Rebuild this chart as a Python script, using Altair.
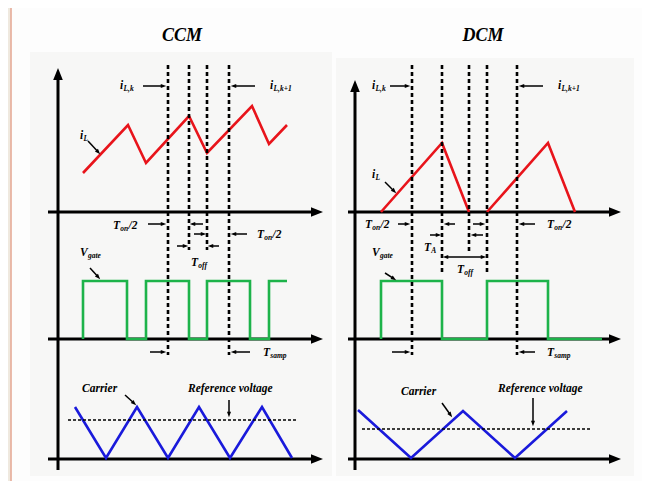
import math
import altair as alt
import pandas as pd

# ---------------- frame ----------------
W, H = 634, 473
X0, Y0 = 8, 8
FONT = "Liberation Serif"

# ---------------- data ----------------
titles = ["CCM", "DCM"]
title_x = [182, 483]
title_y = [36, 36]

# inductor current waveform vertices (time position, level)
ccm_iL_t = [83, 128, 146, 189, 207, 252, 269, 287]
ccm_iL_v = [173, 125, 163, 116, 153, 106, 144, 125]
dcm_iL_t = [[381, 442, 469], [487, 548, 575]]
dcm_iL_v = [[212, 143, 212], [212, 143, 212]]

# gate signal
ccm_gate_t = [83, 83, 127, 127, 146, 146, 189, 189, 207, 207, 250, 250, 269, 269, 287]
ccm_gate_v = [339, 281, 281, 339, 339, 281, 281, 339, 339, 281, 281, 339, 339, 281, 281]
dcm_gate_t = [381, 381, 442, 442, 487, 487, 548, 548, 602]
dcm_gate_v = [339, 281, 281, 339, 339, 281, 281, 339, 339]

# carrier
ccm_carrier_t = [75, 106, 137, 168, 199, 230, 262, 292]
ccm_carrier_v = [407, 458, 407, 458, 407, 458, 407, 458]
dcm_carrier_t = [358, 411, 463, 515, 567]
dcm_carrier_v = [410, 458, 411, 458, 411]

# reference voltage (start, end, level)
ref_start = [68, 362]
ref_end = [297, 590]
ref_level = [420, 429]

# sampling / timing guide lines (time, top, bottom)
guide_t = [168, 189, 207, 229, 412, 442, 469, 487, 517]
guide_top = [65, 65, 65, 65, 65, 65, 65, 65, 65]
guide_bot = [355, 250, 250, 355, 355, 272, 252, 272, 355]

# axes: vertical (x, bottom, tip) and horizontal (level, start, tip)
vaxis_x = [58, 355]
vaxis_bot = [470, 470]
vaxis_tip = [68, 80]
haxis_level = [212, 339, 459, 212, 339, 459]
haxis_start = [48, 48, 48, 348, 348, 348]
haxis_tip = [323, 323, 323, 621, 621, 621]

# annotation arrows (tail x, tail y, head x, head y)
arrows = [
    (88, 141, 100, 154), (143, 86, 166, 86), (255, 86, 231, 86),
    (148, 224, 166, 224), (203, 224, 190, 224), (194, 234, 206, 234),
    (247, 234, 231, 234), (177, 246, 188, 246), (219, 246, 208, 246),
    (90, 268, 100, 279), (150, 352, 166, 352), (250, 352, 231, 352),
    (125, 395, 136, 405), (229, 400, 229, 417),
    (385, 182, 396, 193), (390, 86, 410, 86), (543, 86, 519, 86),
    (398, 224, 410, 224), (455, 224, 444, 224), (473, 224, 485, 224),
    (535, 224, 519, 224), (430, 235, 441, 235), (483, 235, 471, 235),
    (464, 257, 443, 257), (464, 257, 486, 257),
    (385, 273, 396, 280), (392, 352, 410, 352), (535, 352, 519, 352),
    (442, 403, 452, 417), (533, 398, 533, 426),
]

# labels (x, y, main, subscript, tail)
labels = [
    (80, 136, "i", "L", ""), (120, 86, "i", "L,k", ""), (270, 86, "i", "L,k+1", ""),
    (113, 226, "T", "on", "/2"), (257, 235, "T", "on", "/2"), (191, 263, "T", "off", ""),
    (80, 253, "V", "gate", ""), (263, 353, "T", "samp", ""),
    (82, 389, "Carrier", "", ""), (188, 389, "Reference voltage", "", ""),
    (372, 175, "i", "L", ""), (372, 86, "i", "L,k", ""), (558, 86, "i", "L,k+1", ""),
    (365, 225, "T", "on", "/2"), (547, 225, "T", "on", "/2"), (424, 248, "T", "A", ""),
    (457, 270, "T", "off", ""), (372, 253, "V", "gate", ""), (547, 353, "T", "samp", ""),
    (401, 392, "Carrier", "", ""), (498, 389, "Reference voltage", "", ""),
]

# ---------------- helpers ----------------
XS = alt.Scale(domain=[X0, X0 + W], nice=False, zero=False)
YS = alt.Scale(domain=[Y0, Y0 + H], nice=False, zero=False, reverse=True)


def X(f="x"):
    return alt.X(f"{f}:Q", scale=XS, axis=None)


def Y(f="y"):
    return alt.Y(f"{f}:Q", scale=YS, axis=None)


# background panels
bg = pd.DataFrame({
    "x": [8, 30, 336], "x2": [10.5, 332, 634],
    "y": [8, 52, 58], "y2": [481, 476, 476],
    "c": ["#efe9df", "#f7f7f6", "#f7f7f6"],
})
bg_layer = alt.Chart(bg).mark_rect().encode(
    x=X(), x2="x2:Q", y=Y(), y2="y2:Q", color=alt.Color("c:N", scale=None))
border = alt.Chart(pd.DataFrame({"x": [11], "y": [8], "y2": [481]})).mark_rule(
    color="#e3a58f", strokeWidth=1.5).encode(x=X(), y=Y(), y2="y2:Q")

# axes
ax_rows = []
head_rows = []
for i in range(len(vaxis_x)):
    ax_rows.append({"x": vaxis_x[i], "y": vaxis_bot[i], "x2": vaxis_x[i], "y2": vaxis_tip[i] + 6})
    head_rows.append({"x": vaxis_x[i], "y": vaxis_tip[i] + 6, "a": 0})
for i in range(len(haxis_level)):
    ax_rows.append({"x": haxis_start[i], "y": haxis_level[i], "x2": haxis_tip[i] - 6, "y2": haxis_level[i]})
    head_rows.append({"x": haxis_tip[i] - 6, "y": haxis_level[i], "a": 90})
axes_layer = alt.Chart(pd.DataFrame(ax_rows)).mark_rule(color="black", strokeWidth=3).encode(
    x=X(), y=Y(), x2="x2:Q", y2="y2:Q")
axis_heads = alt.Chart(pd.DataFrame(head_rows)).mark_point(
    shape="M0,-1L0.8,1L-0.8,1Z", filled=True, color="black", opacity=1, size=144, strokeWidth=0
).encode(x=X(), y=Y(), angle=alt.Angle("a:Q", scale=None))

# waveforms
rows = []


def add(series, ts, vs, color):
    for k, (t, v) in enumerate(zip(ts, vs)):
        rows.append({"x": t, "y": v, "s": series, "o": k, "c": color})


add("ccm_iL", ccm_iL_t, ccm_iL_v, "#e8141b")
for j in range(len(dcm_iL_t)):
    add(f"dcm_iL{j}", dcm_iL_t[j], dcm_iL_v[j], "#e8141b")
add("ccm_gate", ccm_gate_t, ccm_gate_v, "#1db34a")
add("dcm_gate", dcm_gate_t, dcm_gate_v, "#1db34a")
add("ccm_car", ccm_carrier_t, ccm_carrier_v, "#1a1adb")
add("dcm_car", dcm_carrier_t, dcm_carrier_v, "#1a1adb")
wave_layer = alt.Chart(pd.DataFrame(rows)).mark_line(strokeWidth=2.6).encode(
    x=X(), y=Y(), detail="s:N", order="o:Q", color=alt.Color("c:N", scale=None))

# reference voltage
ref_layer = alt.Chart(pd.DataFrame({"x": ref_start, "x2": ref_end, "y": ref_level})).mark_rule(
    color="black", strokeWidth=1.3, strokeDash=[3, 2]).encode(x=X(), x2="x2:Q", y=Y())

# guides
guide_layer = alt.Chart(pd.DataFrame({"x": guide_t, "y": guide_top, "y2": guide_bot})).mark_rule(
    color="black", strokeWidth=2.6, strokeDash=[4, 3]).encode(x=X(), y=Y(), y2="y2:Q")

# arrows
ar_rows, ah_rows = [], []
HL = 5.0
for (x1, y1, x2, y2) in arrows:
    dx, dy = x2 - x1, y2 - y1
    L = math.hypot(dx, dy)
    ux, uy = dx / L, dy / L
    cx, cy = x2 - ux * HL / 2, y2 - uy * HL / 2
    ar_rows.append({"x": x1, "y": y1, "x2": x2 - ux * HL * 0.8, "y2": y2 - uy * HL * 0.8})
    ang = math.degrees(math.atan2(dx, -dy)) % 360
    ah_rows.append({"x": cx, "y": cy, "a": ang})
arrow_lines = alt.Chart(pd.DataFrame(ar_rows)).mark_rule(color="black", strokeWidth=1.5).encode(
    x=X(), y=Y(), x2="x2:Q", y2="y2:Q")
arrow_heads = alt.Chart(pd.DataFrame(ah_rows)).mark_point(
    shape="M0,-1L0.75,1L-0.75,1Z", filled=True, color="black", opacity=1, size=30, strokeWidth=0
).encode(x=X(), y=Y(), angle=alt.Angle("a:Q", scale=None))

# text
W_MAIN = {"i": 0.278, "T": 0.611, "V": 0.667}
W_SUB = {"o": .5, "n": .556, "f": .333, "g": .5, "a": .5, "t": .278, "e": .444, "s": .389,
         "m": .778, "p": .5, "L": .611, ",": .25, "k": .5, "+": .57, "1": .5, "A": .667}
MS, SS = 11.5, 7.5
t_rows = []
for (x, y, m, s, tail) in labels:
    t_rows.append({"x": x, "y": y, "t": m, "sz": MS})
    if s:
        sx = x + W_MAIN.get(m, 0.5) * MS + 0.3
        t_rows.append({"x": sx, "y": y + 3, "t": s, "sz": SS})
        if tail:
            tx = sx + sum(W_SUB.get(ch, 0.5) for ch in s) * SS + 0.3
            t_rows.append({"x": tx, "y": y, "t": tail, "sz": MS})
text_layer = alt.Chart(pd.DataFrame(t_rows)).mark_text(
    font=FONT, fontStyle="italic", fontWeight="bold", align="left", baseline="middle", color="black"
).encode(x=X(), y=Y(), text="t:N", size=alt.Size("sz:Q", scale=None))

title_layer = alt.Chart(pd.DataFrame({"x": title_x, "y": title_y, "t": titles})).mark_text(
    font=FONT, fontStyle="italic", fontWeight="bold", fontSize=18, align="center",
    baseline="middle", color="black").encode(x=X(), y=Y(), text="t:N")

chart = alt.layer(
    bg_layer, border, axes_layer, axis_heads, wave_layer, ref_layer, guide_layer,
    arrow_lines, arrow_heads, text_layer, title_layer
).properties(
    width=W, height=H, padding=0, autosize=alt.AutoSizeParams(type="none"), background="#fdfdfd"
).configure_view(stroke=None)

chart.save("out.html", embed_options={"renderer": "svg", "actions": False})
